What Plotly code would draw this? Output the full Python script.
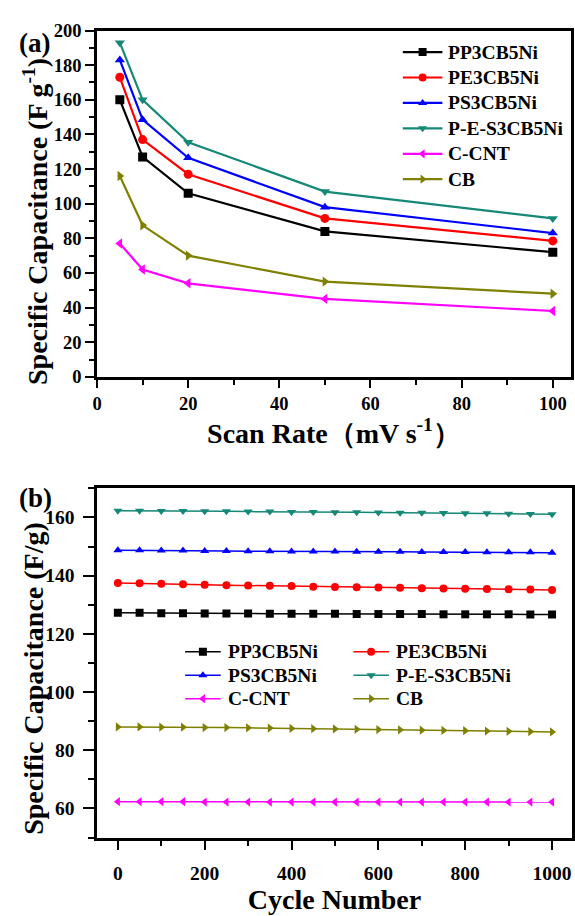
import plotly.graph_objects as go

# ---------------- data: panel (a) ----------------
scan_rate = [5, 10, 20, 50, 100]
a_pp3 = [160, 127, 106, 84, 72]
a_pe3 = [173, 137, 117, 91.5, 78.5]
a_ps3 = [183, 148.5, 126.5, 98, 83]
a_pes3 = [193, 160, 135.5, 107, 91.5]
a_ccnt = [77, 62, 54, 45, 38]
a_cb = [116, 87.5, 70, 55, 48]

# ---------------- data: panel (b) ----------------
cycles = [0, 50, 100, 150, 200, 250, 300, 350, 400, 450, 500,
          550, 600, 650, 700, 750, 800, 850, 900, 950, 1000]
b_pp3 = [127.2, 127.2, 127.1, 127.1, 127.0, 127.0, 127.0, 126.9, 126.9, 126.9, 126.9,
         126.8, 126.8, 126.8, 126.8, 126.7, 126.7, 126.7, 126.7, 126.6, 126.6]
b_pe3 = [137.5, 137.4, 137.2, 137.0, 136.9, 136.7, 136.6, 136.5, 136.4, 136.2, 136.1,
         136.0, 135.9, 135.8, 135.7, 135.6, 135.5, 135.4, 135.3, 135.2, 135.1]
b_ps3 = [148.7, 148.7, 148.6, 148.6, 148.5, 148.5, 148.4, 148.4, 148.3, 148.3, 148.3,
         148.2, 148.2, 148.2, 148.1, 148.1, 148.1, 148.0, 148.0, 148.0, 147.9]
b_pes3 = [162.3, 162.3, 162.2, 162.2, 162.1, 162.1, 162.0, 162.0, 161.9, 161.9, 161.8,
          161.8, 161.7, 161.6, 161.6, 161.5, 161.4, 161.4, 161.3, 161.2, 161.1]
b_ccnt = [62.3, 62.3, 62.3, 62.3, 62.2, 62.2, 62.2, 62.2, 62.2, 62.2, 62.2,
          62.2, 62.2, 62.2, 62.2, 62.2, 62.2, 62.2, 62.2, 62.2, 62.2]
b_cb = [88.0, 88.0, 87.9, 87.9, 87.8, 87.8, 87.7, 87.6, 87.5, 87.4, 87.3,
        87.2, 87.1, 87.0, 86.9, 86.8, 86.7, 86.6, 86.5, 86.4, 86.3]

names = ["PP3CB5Ni", "PE3CB5Ni", "PS3CB5Ni", "P-E-S3CB5Ni", "C-CNT", "CB"]
colors = ["#000000", "#FF0000", "#0000FF", "#158878", "#FF00FF", "#7F8000"]
symbols = ["square", "circle", "triangle-up", "triangle-down", "triangle-left", "triangle-right"]
a_series = [a_pp3, a_pe3, a_ps3, a_pes3, a_ccnt, a_cb]
b_series = [b_pp3, b_pe3, b_ps3, b_pes3, b_ccnt, b_cb]

FONT = "Times New Roman, Liberation Serif, DejaVu Serif, serif"
W, H = 575, 916

# panel geometry in pixels (left, right, top, bottom) and axis ranges
A_BOX = (93, 572, 21, 375)
A_XR, A_YR = (0, 104), (0, 200)
B_BOX = (93, 573, 489, 846)
B_XR, B_YR = (-48, 1046), (50, 170)

def px_x(p):
    return p / W

def px_y(p):
    return 1 - p / H

def to_data(box, xr, yr, px, py):
    l, r, t, b = box
    x = xr[0] + (px - l) / (r - l) * (xr[1] - xr[0])
    y = yr[0] + (b - py) / (b - t) * (yr[1] - yr[0])
    return x, y

fig = go.Figure()
for n, c, s, ys in zip(names, colors, symbols, a_series):
    fig.add_trace(go.Scatter(x=scan_rate, y=ys, name=n, mode="lines+markers",
                             line=dict(color=c, width=2.2),
                             marker=dict(symbol=s, size=9, color=c),
                             xaxis="x", yaxis="y", showlegend=False))
for n, c, s, ys in zip(names, colors, symbols, b_series):
    fig.add_trace(go.Scatter(x=cycles, y=ys, name=n, mode="lines+markers",
                             line=dict(color=c, width=1.5),
                             marker=dict(symbol=s, size=8, color=c),
                             xaxis="x2", yaxis="y2", showlegend=False))

# ---------------- legend keys, drawn inside each panel ----------------
legend_font = dict(family=FONT, size=19.5, color="black", weight="bold")
annotations = []

def legend_entry(panel, x0px, x1px, ypx, txpx, name, color, symbol, lw, ms):
    if panel == "a":
        box, xr, yr, xa, ya = A_BOX, A_XR, A_YR, "x", "y"
    else:
        box, xr, yr, xa, ya = B_BOX, B_XR, B_YR, "x2", "y2"
    x0, yc = to_data(box, xr, yr, x0px, ypx)
    x1, _ = to_data(box, xr, yr, x1px, ypx)
    tx, _ = to_data(box, xr, yr, txpx, ypx)
    fig.add_trace(go.Scatter(x=[x0, x1], y=[yc, yc], mode="lines",
                             line=dict(color=color, width=lw),
                             xaxis=xa, yaxis=ya, showlegend=False, hoverinfo="skip"))
    fig.add_trace(go.Scatter(x=[(x0 + x1) / 2], y=[yc], mode="markers",
                             marker=dict(symbol=symbol, size=ms, color=color),
                             xaxis=xa, yaxis=ya, showlegend=False, hoverinfo="skip"))
    annotations.append(dict(text=name, x=tx, y=yc, xref=xa, yref=ya,
                            xanchor="left", yanchor="middle", showarrow=False,
                            font=legend_font))

# panel (a): single column, upper right
for i, (n, c, s) in enumerate(zip(names, colors, symbols)):
    legend_entry("a", 402, 442, 43 + 26 * i, 446, n, c, s, 2.2, 8)

# panel (b): two columns, three rows
for i, (n, c, s) in enumerate(zip(names, colors, symbols)):
    row, col = divmod(i, 2)
    x0 = 182 + 170 * col
    legend_entry("b", x0, x0 + 36, 656 + 24 * row, x0 + 41, n, c, s, 1.5, 8)

# panel labels and y-axis titles (paper coordinates == pixels here, margins are 0)
for label, ylab in [("(a)", 34), ("(b)", 499)]:
    annotations.append(dict(text=label, x=px_x(12), y=px_y(ylab), xref="paper", yref="paper",
                            xanchor="left", yanchor="middle", showarrow=False,
                            font=dict(family=FONT, size=27, color="black", weight="bold")))

titlefont = dict(family=FONT, size=28, color="black", weight="bold")
for text, cx, cy in [("Specific Capacitance (F g<sup>-1</sup>)", 31, 216),
                     ("Specific Capacitance (F/g)", 28, 683)]:
    annotations.append(dict(text=text, x=px_x(cx), y=px_y(cy), xref="paper", yref="paper",
                            xanchor="center", yanchor="middle", textangle=-90,
                            showarrow=False, font=titlefont))

tickfont_a = dict(family=FONT, size=18.5, color="black", weight="bold")
tickfont_b = dict(family=FONT, size=19.5, color="black", weight="bold")
common = dict(showline=True, linecolor="black", linewidth=2.5, mirror=True,
              ticks="outside", tickwidth=2.2, tickcolor="black",
              showgrid=False, zeroline=False)

def minor(dt, ln):
    return dict(dtick=dt, ticklen=ln, tickwidth=2, ticks="outside", tickcolor="black")

fig.update_layout(
    width=W, height=H, margin=dict(l=0, r=0, t=0, b=0),
    paper_bgcolor="white", plot_bgcolor="white",
    font=dict(family=FONT, color="black"),
    showlegend=False,
    xaxis=dict(domain=[px_x(A_BOX[0]), px_x(A_BOX[1])], range=list(A_XR), dtick=20, tick0=0,
               ticklen=8, ticklabelstandoff=0, minor=minor(10, 5), tickfont=tickfont_a,
               anchor="y", title=dict(text="Scan Rate（mV s<sup>-1</sup>）", font=titlefont, standoff=4),
               **common),
    yaxis=dict(domain=[px_y(A_BOX[3]), px_y(A_BOX[2])], range=list(A_YR), dtick=20, tick0=0,
               ticklen=9, minor=minor(10, 5), tickfont=tickfont_a, anchor="x", **common),
    xaxis2=dict(domain=[px_x(B_BOX[0]), px_x(B_BOX[1])], range=list(B_XR), dtick=200, tick0=0,
                ticklen=10, ticklabelstandoff=6, minor=minor(100, 6), tickfont=tickfont_b,
                anchor="y2", title=dict(text="Cycle Number", font=titlefont, standoff=2),
                **common),
    yaxis2=dict(domain=[px_y(B_BOX[3]), px_y(B_BOX[2])], range=list(B_YR), dtick=20, tick0=0,
                ticklen=11, ticklabelstandoff=5, minor=minor(10, 6), tickfont=tickfont_b,
                anchor="x2", **common),
    annotations=annotations,
)

fig.write_html("out.html")
